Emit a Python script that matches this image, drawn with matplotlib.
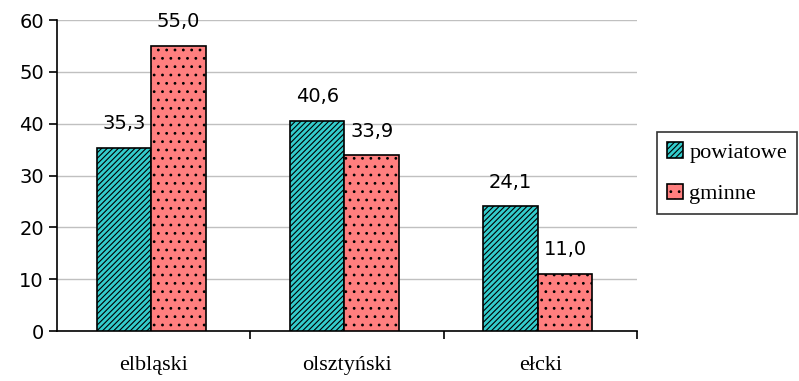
import matplotlib.pyplot as plt
import numpy as np

categories = ["elbląski", "olsztyński", "ełcki"]
powiatowe = [35.3, 40.6, 24.1]
gminne = [55.0, 33.9, 11.0]
series_names = ["powiatowe", "gminne"]

plt.rcParams['hatch.linewidth'] = 0.8

fig = plt.figure(figsize=(7.99, 3.81), dpi=100)
ax = fig.add_axes([0.0713, 0.1312, 0.726, 0.8163])

x = np.arange(len(categories))
w = 0.282
shift = -0.013  # bars sit a bit left of the category centre
b1 = ax.bar(x - w / 2 + shift, powiatowe, w, color="#33CCCC", edgecolor="black",
            hatch="//////", linewidth=1.2, label=series_names[0], zorder=3)
b2 = ax.bar(x + w / 2 + shift, gminne, w, color="#FF7F7F", edgecolor="black",
            hatch="..", linewidth=1.2, label=series_names[1], zorder=3)

# value labels, decimal comma
for bars, vals in ((b1, powiatowe), (b2, gminne)):
    for p, v in zip(bars, vals):
        ax.annotate(f"{v:.1f}".replace(".", ","),
                    (p.get_x() + p.get_width() / 2, v),
                    xytext=(0, 10.5), textcoords="offset points",
                    ha="center", va="bottom", fontsize=14,
                    family="DejaVu Sans")

ax.set_xlim(-0.5, 2.5)
ax.set_ylim(0, 60)
ax.set_yticks(range(0, 61, 10))
ax.grid(axis="y", color="#c0c0c0", linewidth=1, zorder=0)
ax.set_axisbelow(True)

ax.set_xticks([0.5, 1.5, 2.5])
ax.set_xticklabels([])
ax.set_xticks(x, minor=True)
ax.set_xticklabels(categories, minor=True, family="Liberation Serif", fontsize=16)
ax.tick_params(axis="x", which="minor", length=0, pad=18)
ax.tick_params(axis="x", which="major", length=6, width=1.2, direction="out")
ax.tick_params(axis="y", length=6, width=1.2, labelsize=14)

for s in ("top", "right"):
    ax.spines[s].set_visible(False)
for s in ("left", "bottom"):
    ax.spines[s].set_linewidth(1.2)

leg = fig.legend(handles=[b1, b2], loc="upper left",
                 bbox_to_anchor=(657 / 799, 1 - 132 / 381), frameon=True,
                 fancybox=False, edgecolor="black",
                 prop={"family": "Liberation Serif", "size": 16},
                 handlelength=0.7, handleheight=0.7, handletextpad=0.3,
                 labelspacing=0.95, borderpad=0.45, borderaxespad=0)
leg.get_frame().set_linewidth(1.2)

fig.savefig("out.png", dpi=100)
